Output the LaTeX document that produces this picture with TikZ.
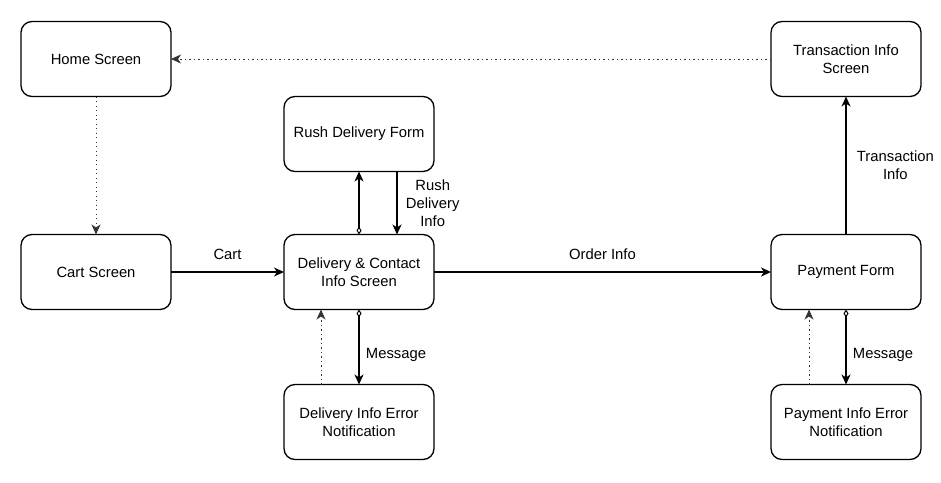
\documentclass[tikz,border=0pt]{standalone}
\usepackage{fontspec}
\setmainfont{Liberation Sans}
\usetikzlibrary{positioning,arrows.meta}

\begin{document}
\begin{tikzpicture}[x=1pt, y=-1pt, line width=1.3pt,
    >={Stealth[length=10pt, width=9pt, inset=3pt]}]
      \tikzset{ScreenStyle/.style={draw, rounded corners=11pt, outer sep=0pt,
          minimum width=150pt, minimum height=75pt, align=center,
          font=\fontsize{14.8}{18}\selectfont}}
      \tikzset{LabelStyle/.style={font=\fontsize{14.8}{18}\selectfont, align=center}}
      \tikzset{HintStyle/.style={line width=1pt, black!80, dash pattern=on 1.2pt off 3.3pt}}
      \tikzset{TailStyle/.style={{Diamond[open, length=8pt, width=5pt, line width=1pt]}->}}

      \useasboundingbox (0,0) rectangle (941,482);

      \node[ScreenStyle] (cart) at (96,272) {Cart Screen};
      \node[ScreenStyle, right=113pt of cart] (deliv) {Delivery \& Contact\\Info Screen};
      \node[ScreenStyle, right=337pt of deliv] (pay) {Payment Form};
      \node[ScreenStyle, above=138pt of cart] (home) {Home Screen};
      \node[ScreenStyle, above=138pt of pay] (trans) {Transaction Info\\Screen};
      \node[ScreenStyle, above=63pt of deliv] (rush) {Rush Delivery Form};
      \node[ScreenStyle, below=75pt of deliv] (derr) {Delivery Info Error\\Notification};
      \node[ScreenStyle, below=75pt of pay] (perr) {Payment Info Error\\Notification};

      \draw[->, HintStyle] (home) -- (cart);
      \draw[->, HintStyle] (trans) -- (home);

      \draw[->] (cart) -- node[LabelStyle, above=8pt] {Cart} (deliv);
      \draw[->] (deliv) -- node[LabelStyle, above=8pt] {Order Info} (pay);

      \draw[TailStyle] (deliv.north) -- (rush.south);
      \draw[->] ([xshift=38pt]rush.south) -- node[LabelStyle, right=5pt]
          {Rush\\Delivery\\Info} ([xshift=38pt]deliv.north);

      \draw[TailStyle] (deliv.south) -- node[LabelStyle, right=3pt, pos=0.6] {Message} (derr.north);
      \draw[->, HintStyle] ([xshift=-38pt]derr.north) -- ([xshift=-38pt]deliv.south);

      \draw[->] (pay) -- node[LabelStyle, right=7pt] {Transaction\\Info} (trans);
      \draw[TailStyle] (pay.south) -- node[LabelStyle, right=3pt, pos=0.6] {Message} (perr.north);
      \draw[->, HintStyle] ([xshift=-37pt]perr.north) -- ([xshift=-37pt]pay.south);
    \end{tikzpicture}
\end{document}
